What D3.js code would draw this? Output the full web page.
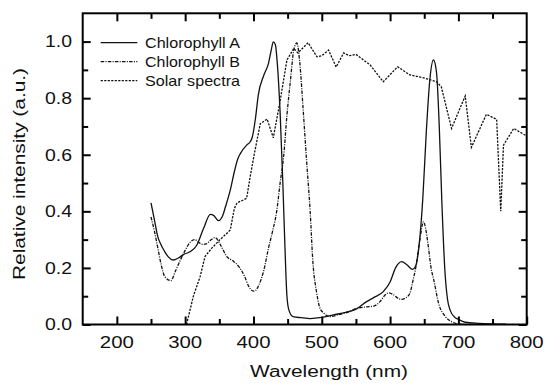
<!DOCTYPE html>
<html><head><meta charset="utf-8">
<script src="https://cdn.jsdelivr.net/npm/d3@7"></script>
<style>body{margin:0;background:#fff}svg{display:block}text{font-family:"Liberation Sans",Arial,Helvetica,sans-serif;fill:#111}</style>
</head><body>
<script>
// Chlorophyll A
const chlAWavelength = [250,255,260,265,270,275,283,290,298,307,317,327,337,342,349,355,359,366,372,377,381,390,395,398,403,407,415,422,426,429,432,435,439,443,446,449,452,458,470,483,500,517,535,551,565,576,590,600,608,617,625,633,638,642,648,653,658,663.5,668,672,676,680,684,688,695,700,710,730,770];
const chlAValue = [0.43,0.37,0.31,0.28,0.258,0.24,0.228,0.235,0.248,0.257,0.28,0.34,0.389,0.385,0.367,0.385,0.416,0.475,0.54,0.585,0.605,0.634,0.645,0.66,0.73,0.81,0.88,0.923,0.97,0.999,0.99,0.92,0.75,0.50,0.28,0.10,0.05,0.028,0.024,0.021,0.025,0.034,0.043,0.055,0.08,0.095,0.116,0.15,0.2,0.222,0.21,0.195,0.21,0.27,0.45,0.68,0.86,0.935,0.89,0.7,0.42,0.2,0.09,0.05,0.025,0.018,0.008,0.004,0.001];
// Chlorophyll B
const chlBWavelength = [250,255,260,265,270,279,286,293,300,307,314,320,326,331,337,344,352,361,370,380,387,393,400,403,408,415,422,428,434,439,444,449,454,459,463.5,468,473,478,483,487,492,497,503,512,525,540,551,565,576,585,593,598,605,612,617,622,629,633,637,643,649,652,656,660,664,671,681,690,700,710];
const chlBValue = [0.38,0.33,0.27,0.21,0.17,0.155,0.19,0.228,0.262,0.29,0.30,0.29,0.283,0.285,0.298,0.307,0.28,0.24,0.225,0.2,0.17,0.135,0.118,0.12,0.14,0.19,0.27,0.33,0.40,0.5,0.59,0.74,0.86,0.97,0.995,0.92,0.75,0.57,0.40,0.22,0.12,0.06,0.04,0.028,0.035,0.045,0.057,0.062,0.065,0.08,0.105,0.112,0.105,0.092,0.089,0.093,0.11,0.15,0.193,0.29,0.363,0.34,0.275,0.2,0.157,0.075,0.028,0.01,0.002,0];
// Solar spectra
const solarWavelength = [302,312,322,329,339,351,360,366,372,376,385,390,395,401,410,420,429,439,449,459,465,480,493,500,510,521,532,540,550,571,590,611,629,649,668,675,690,710,719,741,756,762,766,781,800];
const solarValue = [0,0.1,0.17,0.24,0.27,0.30,0.32,0.334,0.41,0.43,0.44,0.446,0.52,0.60,0.71,0.726,0.66,0.79,0.935,0.976,0.96,0.996,0.946,0.95,0.97,0.91,0.96,0.95,0.955,0.917,0.858,0.911,0.882,0.872,0.858,0.84,0.693,0.808,0.626,0.743,0.725,0.40,0.634,0.693,0.666];

const xTickValues = [200,300,400,500,600,700,800];
const xMinorTicks = [150,250,350,450,550,650,750];
const yTickValues = [0,0.2,0.4,0.6,0.8,1.0];
const yMinorTicks = [0.1,0.3,0.5,0.7,0.9];
const seriesNames = ["Chlorophyll A","Chlorophyll B","Solar spectra"];

const W = 546, H = 385;
const L = 82.7, R = 526.7, T = 13.3, B = 324.5;
const svg = d3.select("body").append("svg").attr("width", W).attr("height", H);
const x = d3.scaleLinear().domain([150,800]).range([L,R]);
const y = d3.scaleLinear().domain([0,1.1]).range([B,T]);

const mk = (ws, vs) => ws.map((w,i)=>[w, vs[i]]);
const series = [
  {name: seriesNames[0], data: mk(chlAWavelength, chlAValue), dash: null, curve: d3.curveMonotoneX},
  {name: seriesNames[1], data: mk(chlBWavelength, chlBValue), dash: "3.5,1.3,1,1.3", curve: d3.curveMonotoneX},
  {name: seriesNames[2], data: mk(solarWavelength, solarValue), dash: "2.2,1.3", curve: d3.curveLinear}
];

const plot = svg.append("g");
series.forEach(s => {
  const line = d3.line().x(d=>x(d[0])).y(d=>y(d[1])).curve(s.curve);
  plot.append("path").datum(s.data).attr("d", line).attr("fill","none")
    .attr("stroke","#111").attr("stroke-width",1.3)
    .attr("stroke-dasharray", s.dash);
});

// frame
svg.append("rect").attr("x",L).attr("y",T).attr("width",R-L).attr("height",B-T)
  .attr("fill","none").attr("stroke","#000").attr("stroke-width",2);

const MAJ = 8, MIN = 5.5;
// bottom & top axes
const axB = svg.append("g").attr("transform",`translate(0,${B})`)
  .call(d3.axisBottom(x).tickValues(xTickValues).tickSize(-MAJ).tickFormat(""));
const axBm = svg.append("g").attr("transform",`translate(0,${B})`)
  .call(d3.axisBottom(x).tickValues(xMinorTicks.filter(v=>v>150)).tickSize(-MIN).tickFormat(""));
const axT = svg.append("g").attr("transform",`translate(0,${T})`)
  .call(d3.axisTop(x).tickValues(xTickValues.filter(v=>v<800)).tickSize(-MAJ).tickFormat(""));
const axTm = svg.append("g").attr("transform",`translate(0,${T})`)
  .call(d3.axisTop(x).tickValues(xMinorTicks.filter(v=>v>150)).tickSize(-MIN).tickFormat(""));
const axL = svg.append("g").attr("transform",`translate(${L},0)`)
  .call(d3.axisLeft(y).tickValues(yTickValues).tickSize(-MAJ).tickFormat(""));
const axLm = svg.append("g").attr("transform",`translate(${L},0)`)
  .call(d3.axisLeft(y).tickValues(yMinorTicks).tickSize(-MIN).tickFormat(""));
const axR = svg.append("g").attr("transform",`translate(${R},0)`)
  .call(d3.axisRight(y).tickValues(yTickValues).tickSize(-MAJ).tickFormat(""));
const axRm = svg.append("g").attr("transform",`translate(${R},0)`)
  .call(d3.axisRight(y).tickValues(yMinorTicks).tickSize(-MIN).tickFormat(""));
[axB,axBm,axT,axTm,axL,axLm,axR,axRm].forEach(g=>{
  g.select(".domain").remove();
  g.selectAll(".tick line").attr("stroke","#000").attr("stroke-width",2);
});

// tick labels
svg.append("g").selectAll("text").data(xTickValues).join("text")
  .attr("x", d=>x(d)).attr("y", 348.3).attr("text-anchor","middle")
  .attr("font-size",16).attr("textLength",34).attr("lengthAdjust","spacingAndGlyphs")
  .text(d=>d3.format("d")(d));
svg.append("g").selectAll("text").data(yTickValues).join("text")
  .attr("x", 72).attr("y", d=>y(d)+5.8).attr("text-anchor","end")
  .attr("font-size",16).attr("textLength",27).attr("lengthAdjust","spacingAndGlyphs")
  .text(d=>d3.format(".1f")(d));

// axis titles
svg.append("text").attr("x",329).attr("y",377).attr("text-anchor","middle")
  .attr("font-size",16).attr("textLength",158).attr("lengthAdjust","spacingAndGlyphs")
  .text("Wavelength (nm)");
svg.append("text").attr("transform","translate(25,174) rotate(-90)").attr("text-anchor","middle")
  .attr("font-size",16).attr("textLength",212).attr("lengthAdjust","spacingAndGlyphs")
  .text("Relative intensity (a.u.)");

// legend
const leg = svg.append("g");
series.forEach((s,i)=>{
  const ly = 42.7 + i*19;
  leg.append("line").attr("x1",100.7).attr("x2",137.3).attr("y1",ly).attr("y2",ly)
    .attr("stroke","#111").attr("stroke-width",1.2).attr("stroke-dasharray", s.dash);
  leg.append("text").attr("x",145).attr("y",ly+5.2).attr("font-size",15)
    .attr("textLength",95).attr("lengthAdjust","spacingAndGlyphs").text(s.name);
});
</script>
</body></html>
